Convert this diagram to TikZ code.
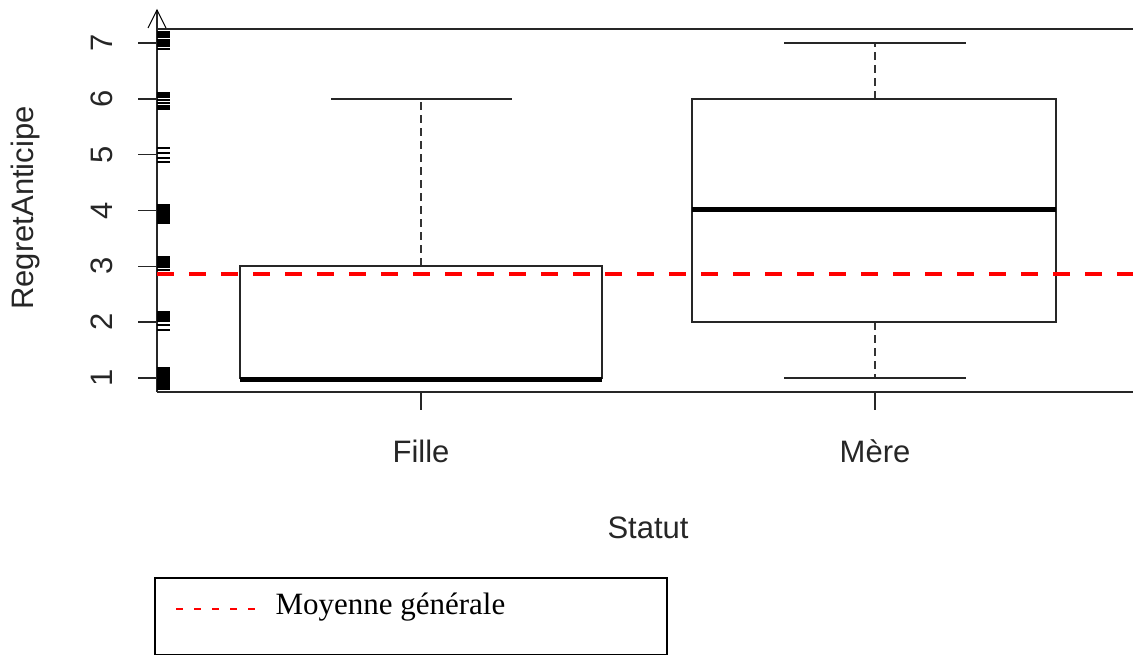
\documentclass[tikz,border=0pt]{standalone}
\usepackage{fontspec}
\setmainfont{Liberation Serif}
\setsansfont{Liberation Sans}

\begin{document}
\begin{tikzpicture}[x=1pt, y=-1pt, line cap=butt,
	axis/.style = {line width=1.6pt, black!85},
	box/.style = {draw, line width=2pt, black!85},
	med/.style = {line width=5pt},
	whisk/.style = {line width=1.8pt, black!80, dash pattern=on 8pt off 5pt},
	moy/.style = {red, line width=3.5pt, dash pattern=on 17pt off 15pt},
	rug/.style = {line width=1.2pt},
	lab/.style = {font=\sffamily\fontsize{31}{36}\selectfont, text=black!85}]
	\useasboundingbox (0,0) rectangle (1133,655);
	
	%Frame and y axis
	\draw[axis] (157,29) -- (1133,29);
	\draw[axis] (157,392) -- (1133,392);
	\draw[axis] (157,392) -- (157,10);
	\draw[line width=1.1pt, line join=miter] (148,28) -- (157,10) -- (166,28); %arrow head
	
	%Y ticks and labels
	\foreach \v in {1,...,7} {
		\draw[axis] (138,{378-(\v-1)*55.83}) -- (157,{378-(\v-1)*55.83});
		\node[lab, rotate=90, anchor=base] (ytick\v) at (112,{378-(\v-1)*55.83}) {\v};
	}
	\node[lab, rotate=90, anchor=base] (ylab) at (34,208) {RegretAnticipe};
	
	%Rug of observations
	\foreach \r in {32,33,34,35,36,37,40,41,42,43,44,45,46,49,
		93,94,95,96,97,100,103,106,107,108,109,
		148,153,158,162,
		205,206,...,223,
		257,258,...,267,270,
		312,313,...,321,325,330,
		368,369,...,389}
		\draw[rug] (157,\r) -- (170,\r);
	
	%Box Fille
	\draw[whisk] (421,266) -- (421,99);
	\draw[axis] (331,99) -- (512,99);
	\draw[box] (240,266) rectangle (602,378);
	\draw[med] (240,379) -- (602,379);
	
	%Box Mere
	\draw[whisk] (875,99) -- (875,43);
	\draw[whisk] (875,322) -- (875,378);
	\draw[axis] (784,43) -- (966,43);
	\draw[axis] (784,378) -- (966,378);
	\draw[box] (692,99) rectangle (1056,322);
	\draw[med] (692,210) -- (1056,210);
	
	%Mean line
	\draw[moy] (157,274) -- (1133,274);
	
	%X ticks and labels
	\draw[axis] (421,392) -- (421,410);
	\draw[axis] (875,392) -- (875,410);
	\node[lab, anchor=base] (fille) at (421,462) {Fille};
	\node[lab, anchor=base] (mere) at (875,462) {Mère};
	\node[lab, anchor=base] (statut) at (648,538) {Statut};
	
	%Legend
	\draw[line width=1.6pt] (155,578) rectangle (667,655);
	\draw[red, line width=2pt, dash pattern=on 7pt off 11pt] (176,609) -- (262,609);
	\node[anchor=base west, font=\fontsize{31}{36}\selectfont] (legtxt) at (272,614) {Moyenne générale};
\end{tikzpicture}
\end{document}
